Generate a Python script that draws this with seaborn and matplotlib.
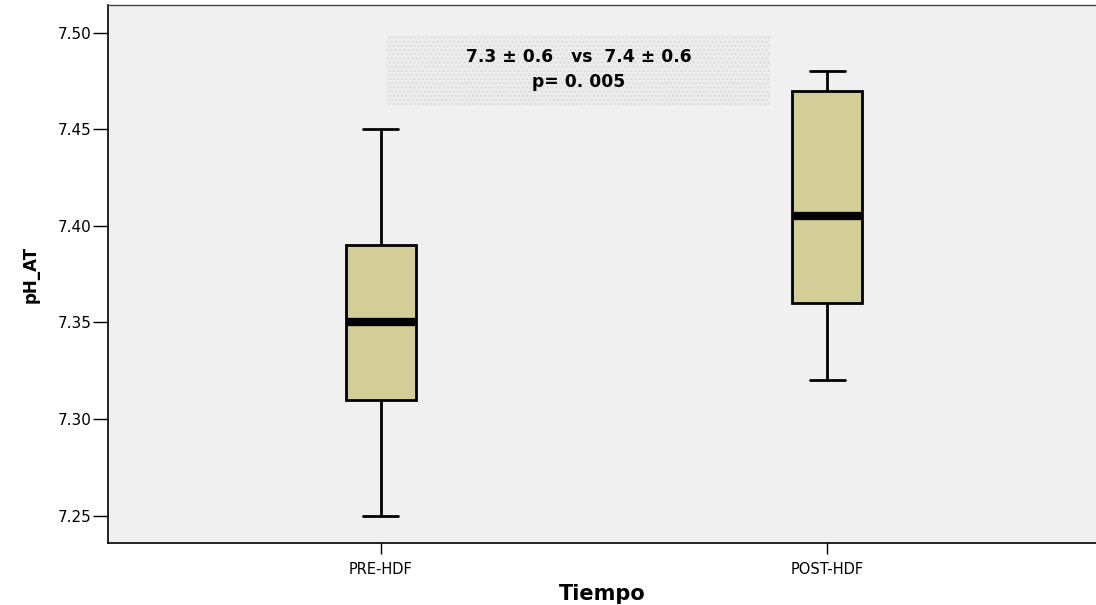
import matplotlib
matplotlib.use("Agg")
import matplotlib.pyplot as plt
from matplotlib.patches import Rectangle
import seaborn as sns
import pandas as pd

# Five-number summaries per group (min, Q1, median, Q3, max)
groups = ["PRE-HDF", "POST-HDF"]
pre_values = [7.25, 7.31, 7.35, 7.39, 7.45]
post_values = [7.32, 7.36, 7.405, 7.47, 7.48]
y_ticks = [7.25, 7.30, 7.35, 7.40, 7.45, 7.50]
stats_line1 = "7.3 \u00b1 0.6   vs  7.4 \u00b1 0.6"
stats_line2 = "p= 0. 005"

df = pd.DataFrame({
    "Tiempo": [groups[0]] * len(pre_values) + [groups[1]] * len(post_values),
    "pH_AT": pre_values + post_values,
})

sns.set_style("white")
plt.rcParams["font.family"] = ["DejaVu Sans"]
plt.rcParams["text.color"] = "black"
plt.rcParams["axes.labelcolor"] = "black"

fig = plt.figure(figsize=(10.96, 6.05), dpi=100)
ax = fig.add_axes([0.0985, 0.1025, 0.9015, 0.8885])
ax.set_facecolor("#f0f0f0")

sns.boxplot(
    data=df, x="Tiempo", y="pH_AT", order=groups, ax=ax,
    width=0.157, color="#d3ce98", saturation=1, linecolor="black",
    linewidth=2, whis=1.5, fliersize=0,
    medianprops=dict(linewidth=6, color="black"),
    boxprops=dict(edgecolor="black", linewidth=2),
    whiskerprops=dict(linewidth=2, color="black"),
    capprops=dict(linewidth=2, color="black"),
)

ax.set_xlim(-0.612, 1.603)
ax.set_ylim(7.2358, 7.5142)
ax.set_yticks(y_ticks)
ax.set_yticklabels([f"{v:.2f}" for v in y_ticks])

ax.tick_params(axis="y", direction="out", length=10.8, width=1, color="black",
               labelsize=11, labelcolor="black", left=True, pad=1)
ax.tick_params(axis="x", direction="out", length=8, width=1, color="black",
               labelsize=10.5, labelcolor="black", bottom=True, pad=5.5)

for side in ["left", "bottom"]:
    ax.spines[side].set_color("black")
    ax.spines[side].set_linewidth(1.2)
ax.spines["top"].set_color("#444444")
ax.spines["top"].set_linewidth(1)
ax.spines["right"].set_visible(False)

ax.set_xlabel("Tiempo", fontsize=15, fontweight="bold", labelpad=5)
ax.set_ylabel("pH_AT", fontsize=12, fontweight="bold", labelpad=13)

# Dotted annotation panel with summary statistics
panel = Rectangle((0.2823, 0.815), 0.3874, 0.130, transform=ax.transAxes,
                  facecolor="#ececec", edgecolor="#dcdcdc", hatch="....",
                  linewidth=0, zorder=3)
ax.add_patch(panel)
ax.text(0.4768, 0.9047, stats_line1, transform=ax.transAxes, ha="center",
        va="center", fontsize=12.3, fontweight="bold", zorder=4)
ax.text(0.4768, 0.8577, stats_line2, transform=ax.transAxes, ha="center",
        va="center", fontsize=12.3, fontweight="bold", zorder=4)

fig.savefig("out.png", dpi=100)
